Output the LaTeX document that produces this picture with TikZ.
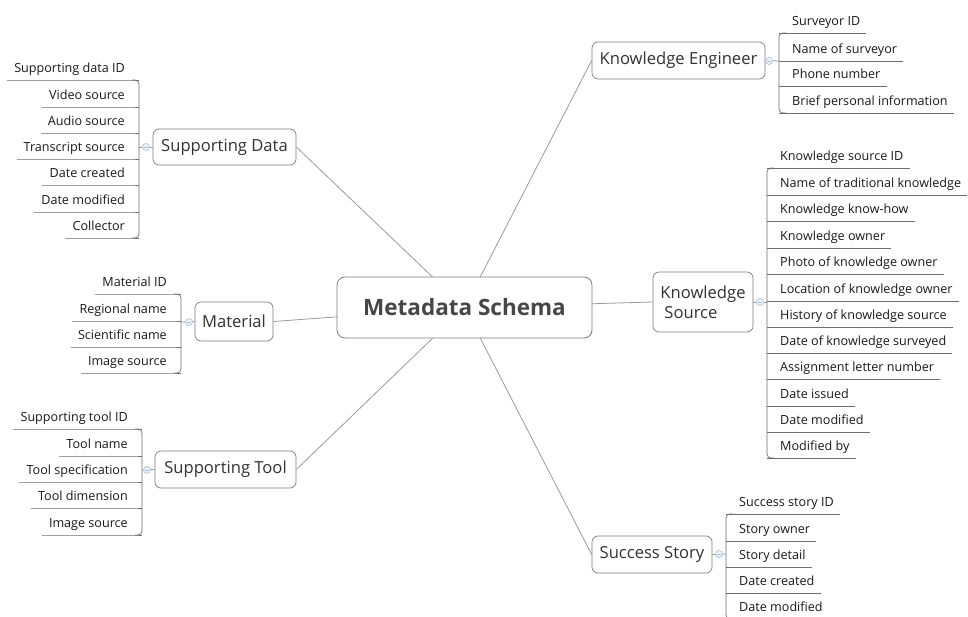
\documentclass[tikz,border=0pt]{standalone}
\usepackage{fontspec}
\newfontfamily\uifont{Open Sans}
\usetikzlibrary{calc}
\pgfdeclarelayer{edges}
\pgfsetlayers{edges,main}

\definecolor{connc}{RGB}{155,155,155}
\definecolor{boxc}{RGB}{125,125,125}
\definecolor{ulc}{RGB}{110,110,110}
\definecolor{circc}{RGB}{165,190,225}
\definecolor{circf}{RGB}{238,244,252}
\definecolor{leafc}{RGB}{25,25,25}
\definecolor{topicc}{RGB}{50,50,50}
\definecolor{rootc}{RGB}{70,70,70}

\tikzset{
  root/.style={draw=boxc, fill=white, rounded corners=8pt, line width=0.8pt,
    minimum width=255pt, minimum height=61pt, inner sep=0pt,
    font=\uifont\bfseries\fontsize{22.5}{26}\selectfont, text=rootc},
  topic/.style={draw=boxc, fill=white, rounded corners=6pt, line width=0.7pt,
    font=\uifont\fontsize{16.6}{20}\selectfont, text=topicc, inner sep=0pt},
  leafR/.style={anchor=south west, inner xsep=6pt, inner ysep=0pt,
    text height=9pt, text depth=7.5pt,
    font=\uifont\fontsize{12.6}{14}\selectfont, text=leafc},
  leafL/.style={leafR, anchor=south east, inner xsep=7pt},
  conn/.style={draw=connc, line width=0.8pt},
  uline/.style={draw=ulc, line width=0.7pt},
  spine/.style={uline, rounded corners=4pt},
  toggle/.style={circle, draw=circc, fill=circf, line width=0.6pt,
    minimum size=7pt, inner sep=0pt,
    path picture={\draw[circc, line width=0.6pt]
      ([xshift=-2pt]path picture bounding box.center) --
      ([xshift=2pt]path picture bounding box.center);}},
}

\begin{document}
\begin{tikzpicture}[x=1pt, y=-1pt]
\useasboundingbox (0,0) rectangle (968,617);

% central topic and main branches
\node[root] (ms) at (464.5,307.5) {Metadata Schema};
\node[topic, minimum width=173pt, minimum height=37pt] (ke) at (678.5,60.5) {Knowledge Engineer};
\node[topic, minimum width=100pt, minimum height=60pt, align=left] (ks) at (703,302) {Knowledge\\\hspace{4pt}Source};
\node[topic, minimum width=120pt, minimum height=37pt] (ss) at (652,554.5) {Success Story};
\node[topic, minimum width=143pt, minimum height=36pt] (sd) at (224.5,147) {Supporting Data};
\node[topic, minimum width=78pt, minimum height=39pt] (mt) at (234,321.5) {Material};
\node[topic, minimum width=141pt, minimum height=37pt] (st) at (225.5,469.5) {Supporting Tool};

% collapse toggles and spine points
\node[toggle] (ke-t) at (769,61) {};
\node[toggle] (ks-t) at (760,302) {};
\node[toggle] (ss-t) at (719,554) {};
\node[toggle] (sd-t) at (146,147) {};
\node[toggle] (mt-t) at (189,322) {};
\node[toggle] (st-t) at (147,470) {};
\coordinate (ke-s) at (779,61);
\coordinate (ks-s) at (767,302);
\coordinate (ss-s) at (726,554);
\coordinate (sd-s) at (139,147);
\coordinate (mt-s) at (181,322);
\coordinate (st-s) at (142,470);

% right-hand leaves
\foreach \ul/\txt [count=\i] in {33/Surveyor ID, 61/Name of surveyor,
    86/Phone number, 113/Brief personal information} {
  \node[leafR] (ke\i) at (786,\ul) {\txt};
  \draw[uline] (ke\i.south west) ++(-7,0) -- (ke\i.south east);
}
\foreach \ul/\txt [count=\i] in {168/Knowledge source ID,
    195/Name of traditional knowledge, 221/Knowledge know-how,
    248/Knowledge owner, 274/Photo of knowledge owner,
    301/Location of knowledge owner, 327/History of knowledge source,
    353/Date of knowledge surveyed, 379/Assignment letter number,
    406/Date issued, 432/Date modified, 458/Modified by} {
  \node[leafR] (ks\i) at (774,\ul) {\txt};
  \draw[uline] (ks\i.south west) ++(-7,0) -- (ks\i.south east);
}
\foreach \ul/\txt [count=\i] in {514/Success story ID, 541/Story owner,
    567/Story detail, 593/Date created, 619/Date modified} {
  \node[leafR] (ss\i) at (733,\ul) {\txt};
  \draw[uline] (ss\i.south west) ++(-7,0) -- (ss\i.south east);
}

% left-hand leaves
\foreach \ul/\txt [count=\i] in {80/Supporting data ID, 107/Video source,
    133/Audio source, 159/Transcript source, 185/Date created,
    212/Date modified, 238/Collector} {
  \node[leafL] (sd\i) at (132,\ul) {\txt};
  \draw[uline] (sd\i.south west) -- (sd\i.south east) -- ++(7,0);
}
\foreach \ul/\txt [count=\i] in {294/Material ID, 321/Regional name,
    347/Scientific name, 373/Image source} {
  \node[leafL] (mt\i) at (174,\ul) {\txt};
  \draw[uline] (mt\i.south west) -- (mt\i.south east) -- ++(7,0);
}
\foreach \ul/\txt [count=\i] in {429/Supporting tool ID, 456/Tool name,
    482/Tool specification, 508/Tool dimension, 535/Image source} {
  \node[leafL] (st\i) at (135,\ul) {\txt};
  \draw[uline] (st\i.south west) -- (st\i.south east) -- ++(7,0);
}

% spines
\draw[spine] (ke1.south west) -- (ke1.south west -| ke-s) |- (ke4.south west);
\draw[spine] (ks1.south west) -- (ks1.south west -| ks-s) |- (ks12.south west);
\draw[spine] (ss1.south west) -- (ss1.south west -| ss-s) |- (ss5.south west);
\draw[spine] (sd1.south east) -- (sd1.south east -| sd-s) |- (sd7.south east);
\draw[spine] (mt1.south east) -- (mt1.south east -| mt-s) |- (mt4.south east);
\draw[spine] (st1.south east) -- (st1.south east -| st-s) |- (st5.south east);

\begin{pgfonlayer}{edges}
  \fill[white] (0,0) rectangle (968,617);
  % central connectors
  \draw[conn] (ms.center) -- (ke.west);
  \draw[conn] (ms.center) -- (ks.west);
  \draw[conn] (ms.center) -- (ss.west);
  \draw[conn] (ms.center) -- (sd.east);
  \draw[conn] (ms.center) -- (mt.east);
  \draw[conn] (ms.center) -- (st.east);
  % branch to spine
  \draw[conn] (ke.east) -- (ke-s);
  \draw[conn] (ks.east) -- (ks-s);
  \draw[conn] (ss.east) -- (ss-s);
  \draw[conn] (sd.west) -- (sd-s);
  \draw[conn] (mt.west) -- (mt-s);
  \draw[conn] (st.west) -- (st-s);
\end{pgfonlayer}
\end{tikzpicture}
\end{document}
